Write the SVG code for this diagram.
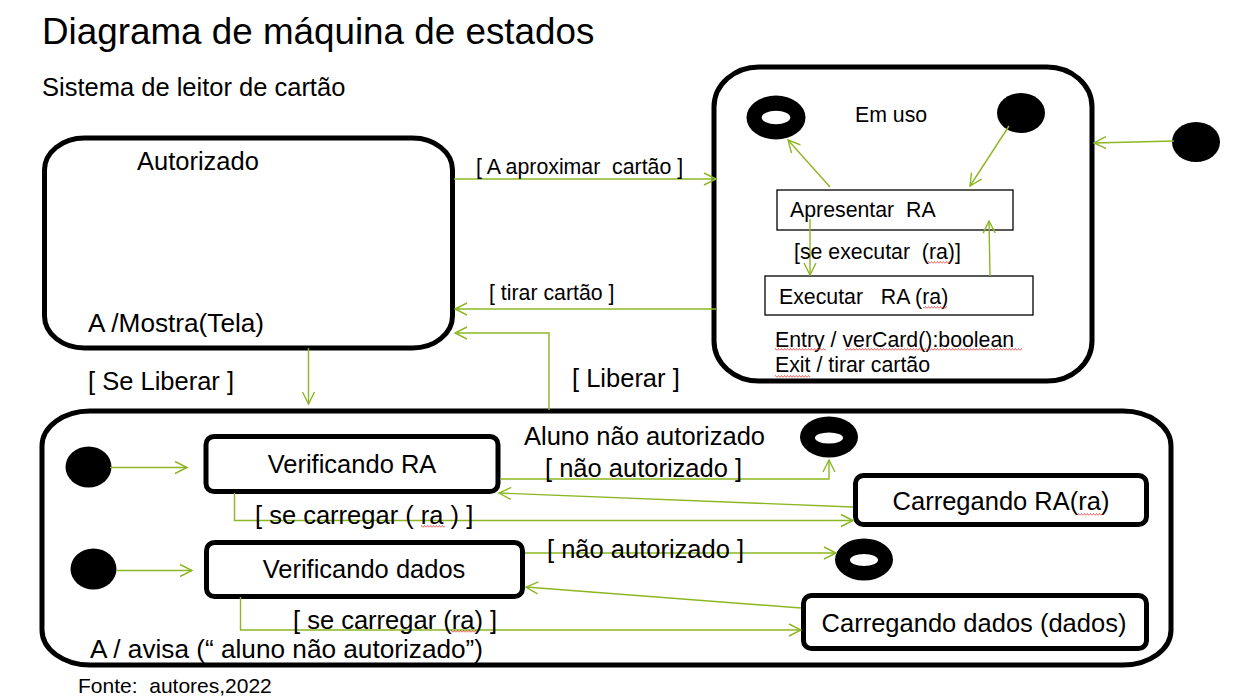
<svg xmlns="http://www.w3.org/2000/svg" width="1234" height="696" viewBox="0 0 1234 696">
<style>
text{font-family:"Liberation Sans",Arial,sans-serif;fill:#000;white-space:pre}
.t36{font-size:36.8px}
.t25{font-size:25.5px}
.t26{font-size:26.2px}
.t21{font-size:21.3px}
.big{fill:#fff;stroke:#000;stroke-width:5}
.st{fill:#fff;stroke:#000;stroke-width:5}
.thin{fill:#fff;stroke:#000;stroke-width:1.3}
.c{fill:none;stroke:#8cb623;stroke-width:1.4}
.a{marker-end:url(#arr)}
.dot{fill:#000}
.sq{fill:url(#wavy)}
</style>
<defs>
<marker id="arr" markerUnits="userSpaceOnUse" markerWidth="16" markerHeight="16" refX="13" refY="7" orient="auto" viewBox="0 0 16 14">
<path d="M1,1 L13,7 L1,13" fill="none" stroke="#8cb623" stroke-width="1.4"/>
</marker>
<pattern id="wavy" patternUnits="userSpaceOnUse" width="3" height="3">
<path d="M0,2.5 L1.5,0.5 L3,2.5" fill="none" stroke="#e02020" stroke-width="0.7"/>
</pattern>
</defs>
<rect width="1234" height="696" fill="#fff"/>

<text class="t36" x="42" y="44">Diagrama de máquina de estados</text>
<text class="t25" x="42" y="96">Sistema de leitor de cartão</text>

<g id="autorizado">
<rect class="big" x="44.5" y="138" width="408" height="210" rx="40" ry="32"/>
<text class="t25" x="137" y="170">Autorizado</text>
<text class="t26" x="88" y="332">A /Mostra(Tela)</text>
</g>

<g id="em-uso">
<rect class="big" x="714" y="67" width="378" height="314" rx="45" ry="40"/>
<text class="t21" x="855" y="122">Em uso</text>
<text class="t21" x="775" y="347">Entry / verCard():boolean</text>
<text class="t21" x="775" y="372">Exit / tirar cartão</text>
<rect class="sq" x="775" y="348" width="51" height="3"/>
<rect class="sq" x="845" y="348" width="177" height="3"/>
<rect class="sq" x="775" y="375" width="35" height="3"/>
</g>
<g id="em-uso-final">
<ellipse class="dot" cx="776" cy="117.5" rx="29.5" ry="22"/>
<ellipse cx="776" cy="117.5" rx="14.3" ry="6.7" fill="#fff"/>
</g>
<g id="em-uso-inicial">
<ellipse class="dot" cx="1021" cy="113" rx="24" ry="20"/>
</g>
<g id="inicial-externo">
<ellipse class="dot" cx="1196" cy="142" rx="24" ry="20"/>
</g>
<g id="apresentar-ra">
<rect class="thin" x="777" y="190" width="236" height="40"/>
<text class="t21" x="790" y="217">Apresentar  RA</text>
</g>
<g id="executar-ra">
<rect class="thin" x="765" y="276" width="268" height="39"/>
<text class="t21" x="779" y="304">Executar   RA (ra)</text>
<rect class="sq" x="923" y="306" width="24" height="3"/>
</g>

<g id="aluno-nao-autorizado">
<rect class="big" x="42" y="411" width="1129" height="254" rx="48" ry="35"/>
<text class="t25" x="524" y="445">Aluno não autorizado</text>
<text class="t26" x="90" y="658">A / avisa (“ aluno não autorizado”)</text>
</g>
<g id="inicial-1"><ellipse class="dot" cx="88.5" cy="467" rx="23" ry="20.5"/></g>
<g id="inicial-2"><ellipse class="dot" cx="93.5" cy="569" rx="23" ry="20.5"/></g>
<g id="verificando-ra">
<rect class="st" x="206" y="436.5" width="292" height="55" rx="8"/>
<text class="t25" x="352" y="473" text-anchor="middle">Verificando RA</text>
</g>
<g id="verificando-dados">
<rect class="st" x="206.5" y="542.5" width="316" height="54" rx="8"/>
<text class="t25" x="364" y="578" text-anchor="middle">Verificando dados</text>
</g>
<g id="carregando-ra">
<rect class="st" x="855.5" y="475.5" width="291" height="49" rx="8"/>
<text class="t25" x="1001" y="510" text-anchor="middle">Carregando RA(ra)</text>
<rect class="sq" x="1078" y="513" width="25" height="3"/>
</g>
<g id="carregando-dados">
<rect class="st" x="803.5" y="595.5" width="343" height="53" rx="8"/>
<text class="t25" x="974" y="632" text-anchor="middle">Carregando dados (dados)</text>
</g>
<g id="final-1">
<ellipse class="dot" cx="829" cy="437" rx="29" ry="20.5"/>
<ellipse cx="829" cy="438" rx="14" ry="5.5" fill="#fff"/>
</g>
<g id="final-2">
<ellipse class="dot" cx="864" cy="559.5" rx="29" ry="21"/>
<ellipse cx="864" cy="560" rx="14" ry="6" fill="#fff"/>
</g>

<g id="connectors">
<path class="c a" d="M454,179 L716,179"/>
<text class="t21" x="476" y="174">[ A aproximar  cartão ]</text>
<path class="c a" d="M716,309 L455,309"/>
<text class="t21" x="489" y="300">[ tirar cartão ]</text>
<path class="c a" d="M549,410 L549,333 L455,333"/>
<text class="t25" x="572" y="387">[ Liberar ]</text>
<path class="c a" d="M308.5,348 L308.5,404"/>
<text class="t25" x="88" y="390">[ Se Liberar ]</text>

<path class="c a" d="M1174,141 L1094,143"/>
<path class="c a" d="M830,187 L788,140"/>
<path class="c a" d="M1009,126 L970,186"/>
<path class="c a" d="M810,219 L810,275"/>
<path class="c a" d="M990,276 L989,221"/>
<text class="t21" x="794" y="259">[se executar  (ra)]</text>
<rect class="sq" x="928" y="261" width="23" height="3"/>

<path class="c a" d="M110,467.5 L187,467.5"/>
<path class="c a" d="M116,570.5 L192,570.5"/>

<path class="c a" d="M500,479 L829,479 L829,460"/>
<text class="t25" x="545" y="477">[ não autorizado ]</text>
<path class="c a" d="M853,507 L499,493"/>
<path class="c a" d="M234.5,493 L234.5,520.5 L853,520.5"/>
<text class="t25" x="255" y="524">[ se carregar ( ra ) ]</text>
<rect class="sq" x="421" y="525" width="24" height="3"/>

<path class="c a" d="M525,553 L836,553"/>
<text class="t25" x="547" y="558">[ não autorizado ]</text>
<path class="c a" d="M801,608 L526,587"/>
<path class="c a" d="M240.5,597 L240.5,630 L801,630"/>
<text class="t25" x="293" y="629">[ se carregar (ra) ]</text>
<rect class="sq" x="451" y="630" width="26" height="3"/>
</g>

<text class="t21" x="78" y="693" style="font-size:21px">Fonte:  autores,2022</text>
</svg>
